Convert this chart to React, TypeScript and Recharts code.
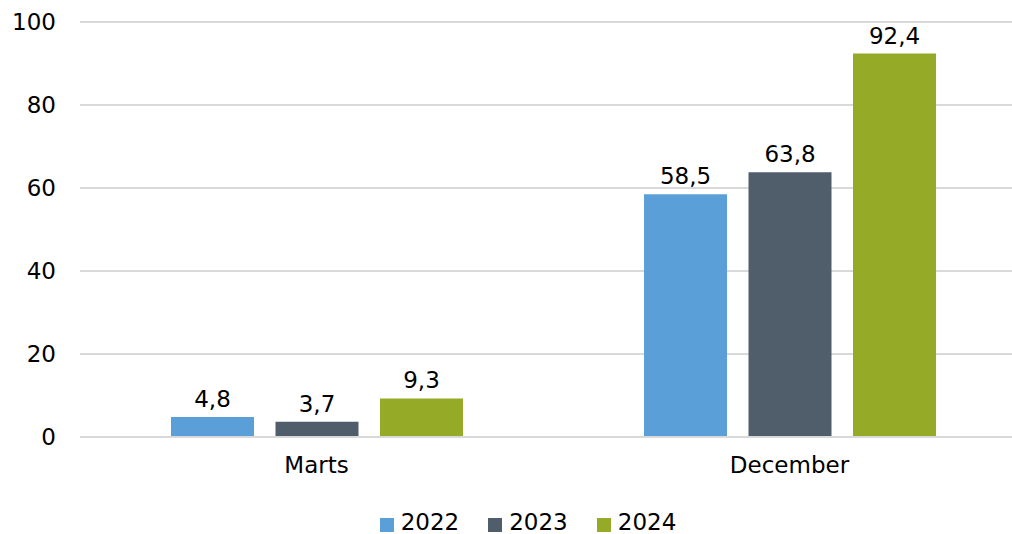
import React from "react";
import { BarChart, Bar, XAxis, YAxis, CartesianGrid, Legend, LabelList } from "recharts";

const categories = ["Marts", "December"];
const values2022 = [4.8, 58.5];
const values2023 = [3.7, 63.8];
const values2024 = [9.3, 92.4];
const yTicks = [0, 20, 40, 60, 80, 100];

const seriesNames = ["2022", "2023", "2024"];
const colors = ["#5B9FD9", "#505E6C", "#95AB28"];

const data = categories.map((c, i) => ({
  name: c,
  "2022": values2022[i],
  "2023": values2023[i],
  "2024": values2024[i],
}));

const FONT = "'DejaVu Sans', Verdana, sans-serif";
const FS = 23;
const fmt = (v: any) => String(v).replace(".", ",");

const LegendContent = () => (
  <div style={{ display: "flex", justifyContent: "center", fontFamily: FONT, fontSize: FS, color: "#000", paddingTop: 12, paddingLeft: 30, lineHeight: "26px" }}>
    {seriesNames.map((n, i) => (
      <div key={n} style={{ display: "flex", alignItems: "center", marginRight: i < 2 ? 29 : 0 }}>
        <span style={{ display: "inline-block", width: 14, height: 14, background: colors[i], marginRight: 7, marginTop: 5 }} />
        <span>{n}</span>
      </div>
    ))}
  </div>
);

export default function App() {
  return (
    <div style={{ position: "fixed", left: 0, top: 0, width: 1012, height: 534, overflow: "hidden", background: "#fff" }}>
      <BarChart
        width={1030}
        height={534}
        data={data}
        margin={{ top: 22, right: 4, bottom: 0, left: 0 }}
        barGap={21.5}
        barSize={83}
      >
        <CartesianGrid vertical={false} stroke="#d9d9d9" strokeWidth={2} />
        <XAxis
          dataKey="name"
          axisLine={{ stroke: "#d9d9d9", strokeWidth: 2 }}
          tickLine={false}
          tickSize={0}
          tickMargin={20}
          height={60}
          tick={{ fontFamily: FONT, fontSize: FS, fill: "#000" }}
        />
        <YAxis
          domain={[0, 100]}
          ticks={yTicks}
          axisLine={false}
          tickLine={false}
          tickSize={0}
          tickMargin={24}
          width={80}
          tick={{ fontFamily: FONT, fontSize: FS, fill: "#000" }}
        />
        <Legend verticalAlign="bottom" height={37} content={<LegendContent />} />
        {seriesNames.map((n, i) => (
          <Bar key={n} dataKey={n} fill={colors[i]} isAnimationActive={false}>
            <LabelList dataKey={n} position="top" offset={10} formatter={fmt} style={{ fontFamily: FONT, fontSize: FS, fill: "#000" }} />
          </Bar>
        ))}
      </BarChart>
    </div>
  );
}
